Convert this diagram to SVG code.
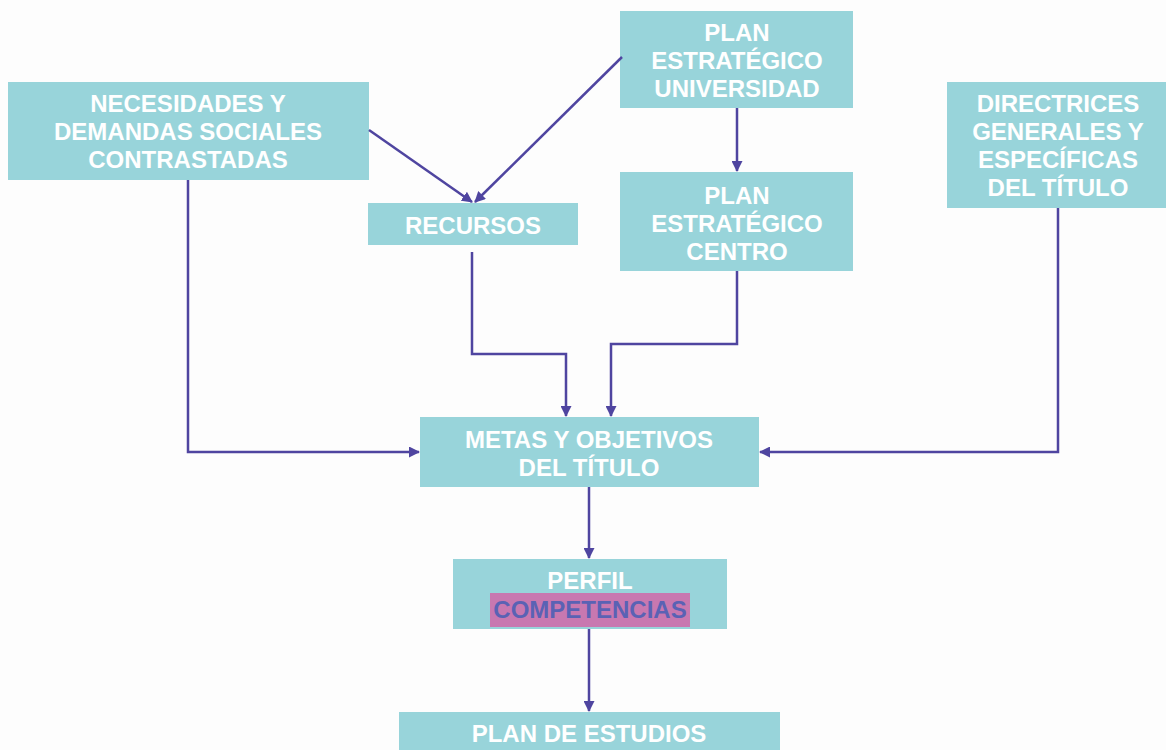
<svg xmlns="http://www.w3.org/2000/svg" width="1166" height="750" viewBox="0 0 1166 750">
<style>
.box{fill:#98D4DA;}
.t{font-family:"Liberation Sans",Arial,sans-serif;font-weight:bold;font-size:24px;fill:#FFFFFF;text-anchor:middle;dominant-baseline:central;}
.c{fill:none;stroke:#4F45A0;stroke-width:2.5;}
</style>
<defs>
<marker id="ah" markerWidth="11" markerHeight="11" refX="10" refY="5.5" orient="auto" markerUnits="userSpaceOnUse" viewBox="0 0 11 11">
<path d="M0,0 L11,5.5 L0,11 z" fill="#4F45A0"/>
</marker>
</defs>
<rect width="1166" height="750" fill="#FDFDFD"/>
<g id="n-necesidades">
<rect class="box" x="8" y="82" width="361" height="98"/>
<text class="t" x="188" y="103">NECESIDADES Y</text>
<text class="t" x="188" y="131">DEMANDAS SOCIALES</text>
<text class="t" x="188" y="159">CONTRASTADAS</text>
</g>
<g id="n-recursos">
<rect class="box" x="368" y="203" width="210" height="42"/>
<text class="t" x="473" y="225">RECURSOS</text>
</g>
<g id="n-plan-univ">
<rect class="box" x="620" y="11" width="233" height="97"/>
<text class="t" x="737" y="32">PLAN</text>
<text class="t" x="737" y="60">ESTRATÉGICO</text>
<text class="t" x="737" y="88">UNIVERSIDAD</text>
</g>
<g id="n-plan-centro">
<rect class="box" x="620" y="172" width="233" height="99"/>
<text class="t" x="737" y="195">PLAN</text>
<text class="t" x="737" y="223">ESTRATÉGICO</text>
<text class="t" x="737" y="251">CENTRO</text>
</g>
<g id="n-directrices">
<rect class="box" x="947" y="82" width="219" height="126"/>
<text class="t" x="1058" y="103">DIRECTRICES</text>
<text class="t" x="1058" y="131">GENERALES Y</text>
<text class="t" x="1058" y="159">ESPECÍFICAS</text>
<text class="t" x="1058" y="187">DEL TÍTULO</text>
</g>
<g id="n-metas">
<rect class="box" x="420" y="417" width="339" height="70"/>
<text class="t" x="589" y="439">METAS Y OBJETIVOS</text>
<text class="t" x="589" y="467">DEL TÍTULO</text>
</g>
<g id="n-perfil">
<rect class="box" x="453" y="559" width="274" height="70"/>
<text class="t" x="590" y="580">PERFIL</text>
<rect x="490" y="593" width="200" height="34" fill="#C878B0"/>
<text class="t" x="590" y="609" style="fill:#5A62B4">COMPETENCIAS</text>
</g>
<g id="n-plan-estudios">
<rect class="box" x="399" y="712" width="381" height="40"/>
<text class="t" x="589" y="733">PLAN DE ESTUDIOS</text>
</g>
<g id="connectors">
<path class="c" d="M369,130 L472,202" marker-end="url(#ah)"/>
<path class="c" d="M622,57 L475,202" marker-end="url(#ah)"/>
<path class="c" d="M737,108 L737,171" marker-end="url(#ah)"/>
<path class="c" d="M188,180 L188,452 L419,452" marker-end="url(#ah)"/>
<path class="c" d="M472,252 L472,354 L566,354 L566,416" marker-end="url(#ah)"/>
<path class="c" d="M737,271 L737,344 L611,344 L611,416" marker-end="url(#ah)"/>
<path class="c" d="M1058,208 L1058,452 L760,452" marker-end="url(#ah)"/>
<path class="c" d="M589,487 L589,558" marker-end="url(#ah)"/>
<path class="c" d="M589,629 L589,711" marker-end="url(#ah)"/>
</g>
</svg>
